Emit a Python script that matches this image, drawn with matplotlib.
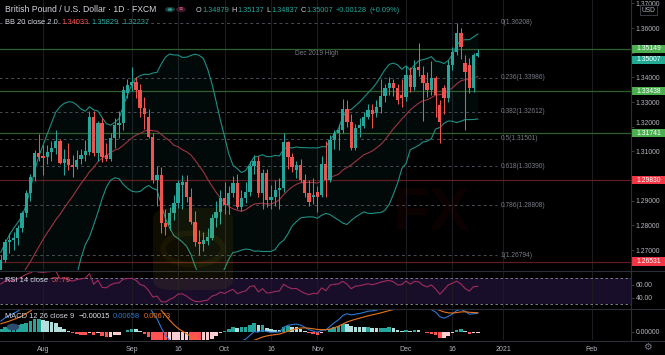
import numpy as np
import pandas as pd
import matplotlib
matplotlib.use("Agg")
import matplotlib.pyplot as plt
from matplotlib.lines import Line2D
from matplotlib.patches import Rectangle, Circle, FancyBboxPatch
from matplotlib.transforms import blended_transform_factory

plt.rcParams['font.family'] = ['Liberation Sans', 'DejaVu Sans']

# GBPUSD daily (FXCM), first bar 2020-07-20
start = '2020-07-20'
opens = [1.2565, 1.2660, 1.2733, 1.2741, 1.2749, 1.2789, 1.2850, 1.2931, 1.2996, 1.3093,
         1.3080, 1.3077, 1.3097, 1.3114, 1.3142, 1.3053, 1.3068, 1.3045, 1.3037, 1.3070,
         1.3085, 1.3097, 1.3239, 1.3093, 1.3215, 1.3085, 1.3068, 1.3154, 1.3207, 1.3215,
         1.3337, 1.3369, 1.3381, 1.3349, 1.3276, 1.3239, 1.3158, 1.2984, 1.3004, 1.2810,
         1.2801, 1.2850, 1.2891, 1.2964, 1.2976, 1.2915, 1.2814, 1.2733, 1.2724, 1.2737,
         1.2749, 1.2830, 1.2854, 1.2911, 1.2883, 1.2931, 1.2972, 1.2874, 1.2911, 1.2935,
         1.3041, 1.3062, 1.2931, 1.3012, 1.2903, 1.2915, 1.2943, 1.2951, 1.3138, 1.3077,
         1.3024, 1.3045, 1.2984, 1.2931, 1.2915, 1.2935, 1.2923, 1.3049, 1.2984, 1.3146,
         1.3174, 1.3185, 1.3272, 1.3219, 1.3114, 1.3195, 1.3203, 1.3239, 1.3268, 1.3255,
         1.3280, 1.3324, 1.3357, 1.3377, 1.3357, 1.3328, 1.3320, 1.3409, 1.3361, 1.3440,
         1.3409, 1.3377, 1.3349, 1.3397, 1.3288, 1.3357, 1.3316, 1.3450, 1.3503, 1.3580,
         1.3458, 1.3450, 1.3357, 1.34879]
highs = [1.2680, 1.2745, 1.2770, 1.2775, 1.2800, 1.2860, 1.2945, 1.3010, 1.3105, 1.3170,
         1.3125, 1.3125, 1.3140, 1.3185, 1.3150, 1.3110, 1.3135, 1.3085, 1.3105, 1.3110,
         1.3145, 1.3265, 1.3265, 1.3225, 1.3235, 1.3135, 1.3175, 1.3235, 1.3265, 1.3365,
         1.3395, 1.3440, 1.3400, 1.3375, 1.3320, 1.3270, 1.3175, 1.3040, 1.3035, 1.2865,
         1.2875, 1.2925, 1.2985, 1.3005, 1.3005, 1.2950, 1.2860, 1.2780, 1.2775, 1.2790,
         1.2845, 1.2900, 1.2945, 1.2975, 1.2960, 1.3000, 1.3010, 1.2945, 1.2975, 1.3060,
         1.3085, 1.3080, 1.3030, 1.3030, 1.2965, 1.2985, 1.2990, 1.3175, 1.3140, 1.3095,
         1.3060, 1.3070, 1.3010, 1.2985, 1.2990, 1.2960, 1.3080, 1.3140, 1.3165, 1.3185,
         1.3210, 1.3313, 1.3310, 1.3250, 1.3210, 1.3235, 1.3260, 1.3290, 1.3290, 1.3310,
         1.3395, 1.3375, 1.3400, 1.3395, 1.3375, 1.3395, 1.3445, 1.3440, 1.3470, 1.3540,
         1.3445, 1.3420, 1.3465, 1.3405, 1.3310, 1.3370, 1.3470, 1.3525, 1.3621, 1.3600,
         1.3490, 1.3480, 1.3500, 1.35137]
lows = [1.2545, 1.2650, 1.2690, 1.2700, 1.2720, 1.2775, 1.2835, 1.2900, 1.2980, 1.3060,
        1.3005, 1.3050, 1.3060, 1.3090, 1.3050, 1.3005, 1.3025, 1.2995, 1.3030, 1.3050,
        1.3060, 1.3085, 1.3080, 1.3060, 1.3055, 1.3060, 1.3060, 1.3115, 1.3155, 1.3185,
        1.3315, 1.3345, 1.3315, 1.3240, 1.3190, 1.3155, 1.2970, 1.2880, 1.2770, 1.2760,
        1.2780, 1.2820, 1.2870, 1.2865, 1.2895, 1.2805, 1.2715, 1.2680, 1.2695, 1.2720,
        1.2740, 1.2795, 1.2805, 1.2845, 1.2845, 1.2915, 1.2865, 1.2860, 1.2890, 1.2920,
        1.3010, 1.2915, 1.2865, 1.2875, 1.2865, 1.2880, 1.2865, 1.2935, 1.3030, 1.3015,
        1.2990, 1.2975, 1.2915, 1.2880, 1.2885, 1.2855, 1.2915, 1.2915, 1.2975, 1.3110,
        1.3105, 1.3175, 1.3200, 1.3105, 1.3105, 1.3160, 1.3195, 1.3230, 1.3195, 1.3240,
        1.3255, 1.3300, 1.3330, 1.3325, 1.3290, 1.3280, 1.3305, 1.3340, 1.3350, 1.3405,
        1.3225, 1.3320, 1.3330, 1.3240, 1.3135, 1.3250, 1.3300, 1.3430, 1.3490, 1.3475,
        1.3188, 1.3335, 1.3340, 1.34837]
closes = [1.2660, 1.2733, 1.2741, 1.2749, 1.2789, 1.2850, 1.2931, 1.2996, 1.3093, 1.3077,
          1.3074, 1.3097, 1.3114, 1.3142, 1.3053, 1.3068, 1.3045, 1.3035, 1.3065, 1.3085,
          1.3101, 1.3239, 1.3093, 1.3215, 1.3077, 1.3068, 1.3154, 1.3207, 1.3215, 1.3349,
          1.3369, 1.3381, 1.3349, 1.3276, 1.3250, 1.3158, 1.2984, 1.3004, 1.2810, 1.2793,
          1.2850, 1.2891, 1.2972, 1.2976, 1.2915, 1.2814, 1.2733, 1.2724, 1.2741, 1.2753,
          1.2830, 1.2854, 1.2911, 1.2883, 1.2931, 1.2972, 1.2874, 1.2911, 1.2935, 1.3041,
          1.3062, 1.2931, 1.3012, 1.2903, 1.2915, 1.2943, 1.2951, 1.3138, 1.3077, 1.3037,
          1.3045, 1.2984, 1.2931, 1.2895, 1.2925, 1.2915, 1.3049, 1.2984, 1.3146, 1.3174,
          1.3185, 1.3272, 1.3219, 1.3114, 1.3195, 1.3207, 1.3239, 1.3268, 1.3250, 1.3280,
          1.3324, 1.3357, 1.3377, 1.3357, 1.3308, 1.3316, 1.3409, 1.3361, 1.3438, 1.3430,
          1.3377, 1.3349, 1.3397, 1.3328, 1.3219, 1.3316, 1.3450, 1.3503, 1.3580, 1.3523,
          1.3420, 1.3357, 1.3489, 1.35007]

# closes before the visible window (late May - Jul 17), only to warm up the indicators
warmup_close = [1.2290, 1.2270, 1.2335, 1.2345, 1.2490, 1.2560, 1.2585, 1.2590, 1.2665,
                1.2725, 1.2745, 1.2735, 1.2590, 1.2545, 1.2570, 1.2560, 1.2545, 1.2405,
                1.2345, 1.2475, 1.2495, 1.2415, 1.2415, 1.2335, 1.2310, 1.2395, 1.2475,
                1.2475, 1.2485, 1.2475, 1.2545, 1.2610, 1.2615, 1.2615, 1.2545, 1.2565,
                1.2570, 1.2535, 1.2565]

fib_levels = ['0', '0.236', '0.382', '0.5', '0.618', '0.786', '1']
fib_prices = [1.36208, 1.33986, 1.32612, 1.31501, 1.30390, 1.28808, 1.26794]
green_levels = [1.35149, 1.33438, 1.31741]
red_levels = [1.29830, 1.26531]
last_price = 1.35007
price_ticks = [1.27, 1.28, 1.29, 1.30, 1.31, 1.32, 1.33, 1.34, 1.35, 1.36, 1.37]
hidden_ticks = [1.30, 1.35]   # covered by the level badges
nudged_ticks = [1.32]         # squeezed up by the badge below it

tick_dates = ['2020-08-03', '2020-09-01', '2020-09-16', '2020-10-01', '2020-10-16',
              '2020-11-02', '2020-12-01', '2020-12-16', '2021-01-01', '2021-02-01']
tick_names = ['Aug', 'Sep', '16', 'Oct', '16', 'Nov', 'Dec', '16', '2021', 'Feb']

# colours
BG = '#000000'
UP = '#26a69a'
DOWN = '#ef5350'
TXT = '#b2b5be'
LEG = '#d1d4dc'
GRID = '#1a1c22'
SEP = '#2a2e39'

# ---- indicators ----
n_warm = len(warmup_close)
cl = pd.Series(warmup_close + closes)
basis = cl.rolling(20).mean()
dev = cl.rolling(20).std(ddof=0)
bb_up = (basis + 2 * dev).values[n_warm:]
bb_lo = (basis - 2 * dev).values[n_warm:]
basis = basis.values[n_warm:]

delta = cl.diff()
gain = delta.clip(lower=0).ewm(alpha=1 / 14, adjust=False).mean()
loss = (-delta.clip(upper=0)).ewm(alpha=1 / 14, adjust=False).mean()
rsi = (100 - 100 / (1 + gain / loss)).values[n_warm:]

macd = cl.ewm(span=12, adjust=False).mean() - cl.ewm(span=26, adjust=False).mean()
signal = macd.ewm(span=9, adjust=False).mean()
hist = (macd - signal).values
hist_prev = np.r_[hist[0], hist[:-1]]
macd = macd.values[n_warm:]
signal = signal.values[n_warm:]
hist, hist_prev = hist[n_warm:], hist_prev[n_warm:]
hist_col = np.where(hist >= 0,
                    np.where(hist > hist_prev, '#26a69a', '#b2dfdb'),
                    np.where(hist < hist_prev, '#ff5252', '#ffcdd2'))

dates = pd.bdate_range(start, '2021-03-31')
xs = np.arange(len(closes))
tick_pos = [dates.get_loc(pd.Timestamp(d)) for d in tick_dates]

# ---- layout (pixel based) ----
W, H = 665, 355
AX_R = 631
fig = plt.figure(figsize=(W / 100, H / 100), dpi=100, facecolor=BG)
renderer = fig.canvas.get_renderer()


def pane(y0, y1):
    a = fig.add_axes([0, 1 - y1 / H, AX_R / W, (y1 - y0) / H])
    a.set_facecolor(BG)
    for s in a.spines.values():
        s.set_visible(False)
    a.set_xlim(-0.2, 149.3)
    a.set_xticks(tick_pos)
    a.grid(axis='x', color=GRID, lw=0.8)
    a.set_axisbelow(True)
    a.tick_params(axis='x', length=0, labelbottom=False)
    a.yaxis.tick_right()
    a.tick_params(axis='y', colors='#434651', labelcolor=TXT, labelsize=4.9,
                  length=2, width=0.6, pad=1.5)
    return a


def ftext(x, y, s, **kw):
    kw.setdefault('va', 'center')
    kw.setdefault('fontsize', 5.4)
    return fig.text(x / W, 1 - y / H, s, **kw)


def text_run(x, y, pieces, size=5.4):
    # lay pieces of coloured text one after the other
    for s, cc, gap in pieces:
        t = ftext(x, y, s, color=cc, fontsize=size)
        x += t.get_window_extent(renderer).width + gap


def price_box(a, p, fc, dy=0):
    ppu = a.bbox.height / (a.get_ylim()[1] - a.get_ylim()[0])
    tr = blended_transform_factory(a.transAxes, a.transData)
    yc = p + dy / ppu
    a.add_patch(Rectangle((1.0, yc - 4.2 / ppu), 34 / AX_R, 8.4 / ppu, transform=tr,
                          fc=fc, ec='none', clip_on=False, zorder=10))
    a.text(1.0 + 5 / AX_R, yc, f'{p:.5f}', transform=tr, color='white', fontsize=4.9,
           va='center', ha='left', clip_on=False, zorder=11)


# main price pane
ax = pane(0, 270)
ax.set_ylim(1.26191, 1.37135)
ax.set_yticks(price_ticks)
ax.set_yticklabels(['' if v in hidden_ticks + nudged_ticks else f'{v:.5f}'
                    for v in price_ticks])
for v in nudged_ticks:
    ax.annotate(f'{v:.5f}', xy=(1, v), xycoords=('axes fraction', 'data'),
                xytext=(3.3, 2.2), textcoords='offset points', color=TXT, fontsize=4.9,
                va='center', ha='left', annotation_clip=False)

ax.fill_between(xs, bb_lo, bb_up, color=UP, alpha=0.06, lw=0, zorder=1)
ax.plot(xs, bb_up, color='#1f8f84', lw=0.8, zorder=2)
ax.plot(xs, bb_lo, color='#1f8f84', lw=0.8, zorder=2)
ax.plot(xs, basis, color='#9e3442', lw=0.8, zorder=2)

for p in green_levels:
    ax.axhline(p, color='#2f5f2c', lw=0.9, zorder=1.5)
for p in red_levels:
    ax.axhline(p, color='#5f1f1f', lw=0.9, zorder=1.5)

fib_end = 117.6
ax.hlines(fib_prices, -1, fib_end, colors='#4a4d57', linestyles=(0, (3, 3)), lw=0.7, zorder=1.6)
for lvl, p in zip(fib_levels, fib_prices):
    ax.text(fib_end + 0.8, p, f'{lvl}({p:.5f})', color='#787b86', fontsize=4.8, va='center')

o, h, l, c = map(np.array, (opens, highs, lows, closes))
col = np.where(c >= o, UP, DOWN)
ax.vlines(xs, l, h, colors=col, lw=0.75, zorder=3)
ax.bar(xs, np.maximum(np.abs(c - o), 0.00012), bottom=np.minimum(o, c), width=0.78,
       color=col, lw=0, zorder=4)

ax.text(69.7, green_levels[0] - 0.0018, 'Dec 2019 High', color='#787b86', fontsize=4.8,
        va='center')

for p in green_levels:
    price_box(ax, p, '#4caf50')
for p in red_levels:
    price_box(ax, p, '#f23645')
price_box(ax, last_price, '#22ab94', dy=-7.5)

# RSI pane
ax_r = pane(271, 308)
ax_r.set_ylim(24.6, 81.5)
ax_r.axhspan(30, 70, color='#180e2a', lw=0, zorder=0.5)
ax_r.axhline(70, color='#8a8d96', lw=0.6, ls=(0, (3, 3)))
ax_r.axhline(30, color='#8a8d96', lw=0.6, ls=(0, (3, 3)))
ax_r.plot(xs, rsi, color='#a02b5c', lw=0.8)
ax_r.set_yticks([40, 60])
ax_r.set_yticklabels(['40.00', '60.00'])

# MACD pane
ax_m = pane(309, 340)
ax_m.set_ylim(-0.00277, 0.00796)
ax_m.bar(xs, hist, width=0.85, color=hist_col, lw=0, zorder=2)
ax_m.plot(xs, macd, color='#2979d6', lw=0.8, zorder=3)
ax_m.plot(xs, signal, color='#e8731e', lw=0.8, zorder=3)
ax_m.set_yticks([0])
ax_m.set_yticklabels(['0.00000'])
ax_m.set_xticks(tick_pos, tick_names)
ax_m.tick_params(axis='x', labelbottom=True, labelsize=5, labelcolor=TXT, pad=4)

# separators
for y in (270.5, 308.5, 340.8):
    fig.add_artist(Line2D([0, 1], [1 - y / H] * 2, color=SEP, lw=0.8))
fig.add_artist(Line2D([AX_R / W] * 2, [1 - 341 / H, 1], color=SEP, lw=0.8))

# faint source watermark over the chart
fig.add_artist(FancyBboxPatch((153 / W, 1 - 290 / H), 80 / W, 82 / H,
                              boxstyle='round,pad=0,rounding_size=0.03',
                              transform=fig.transFigure, fc='#d8b400', ec='none',
                              alpha=0.07, zorder=20))
fig.add_artist(Circle((193 / W, 1 - 249 / H), 0.045, transform=fig.transFigure,
                      fc='none', ec='#d8b400', lw=4, alpha=0.06, zorder=20))
ftext(432, 215, 'FX', color='#b01818', fontsize=44, fontweight='bold', ha='center',
      alpha=0.07, zorder=20)

# legends
ftext(5, 10, 'British Pound / U.S. Dollar · 1D · FXCM', color=LEG, fontsize=6.2)
fig.add_artist(Circle((170 / W, 1 - 9.5 / H), 0.0075, transform=fig.transFigure,
                      fc='#1e3a36', ec='none'))
fig.add_artist(Circle((170 / W, 1 - 9.5 / H), 0.0035, transform=fig.transFigure,
                      fc=UP, ec='none'))
fig.add_artist(Circle((181 / W, 1 - 9.5 / H), 0.0075, transform=fig.transFigure,
                      fc='#3a1a26', ec='none'))
ftext(181, 9.5, '≡', color='#ef5390', fontsize=5, ha='center')
text_run(196, 10, [('O', LEG, 0.5), ('1.34879', UP, 2.5), ('H', LEG, 0.5),
                   ('1.35137', UP, 2.5), ('L', LEG, 0.5), ('1.34837', UP, 2.5),
                   ('C', LEG, 0.5), ('1.35007', UP, 3), ('+0.00128', UP, 2.5),
                   ('(+0.09%)', UP, 0)], size=5.3)
text_run(5, 22, [('BB 20 close 2 0', LEG, 4), ('1.34033', DOWN, 3),
                 ('1.35829', UP, 3), ('1.32237', UP, 0)])
text_run(5, 281, [('RSI 14 close', LEG, 4), ('57.79', DOWN, 0)])
text_run(5, 317, [('MACD 12 26 close 9', LEG, 4), ('\u22120.00015', '#e0e3eb', 3.5),
                  ('0.00658', '#2979d6', 3.5), ('0.00673', '#e8731e', 0)])

# USD badge, settings gear, logo
fig.add_artist(Rectangle((640 / W, 1 - 15 / H), 17 / W, 10 / H, transform=fig.transFigure,
                         fc=BG, ec='#434651', lw=0.6, zorder=5))
ftext(648.5, 10, 'USD', color=TXT, fontsize=4.8, ha='center', zorder=6)
ftext(647, 347, '\u2699', color='#787b86', fontsize=7, ha='center', family='DejaVu Sans')
fig.add_artist(Circle((13 / W, 1 - 327 / H), 0.0095, transform=fig.transFigure,
                      fc='#2e4a6e', ec='none'))

fig.savefig('out.png', dpi=100, facecolor=BG)
